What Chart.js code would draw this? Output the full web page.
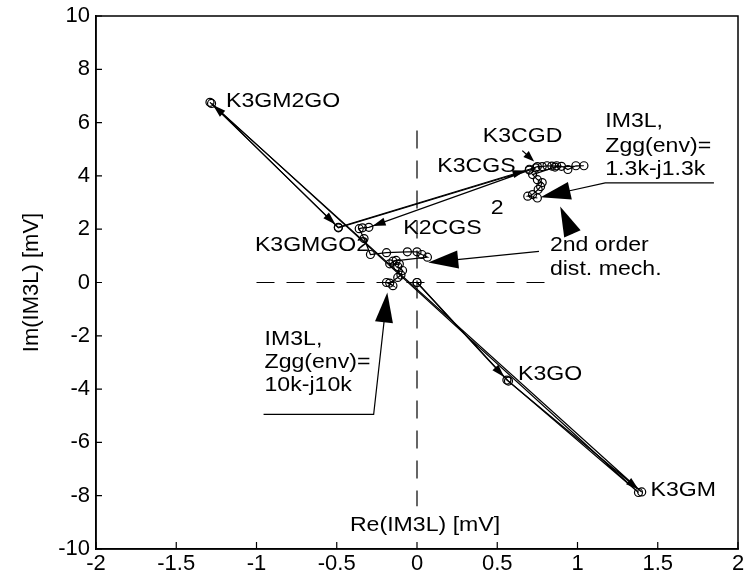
<!DOCTYPE html>
<html>
<head>
<meta charset="utf-8">
<script src="https://cdn.jsdelivr.net/npm/chart.js@4/dist/chart.umd.min.js"></script>
<style>
html,body{margin:0;padding:0;background:#fff;}
canvas{display:block;}
</style>
</head>
<body>
<canvas id="c" width="744" height="575"></canvas>
<script>
// ---- Data (Re / Im of IM3L contributions, mV) ----
// Zgg(env) = 1.3k - j1.3k
const reA = [0, 0.56, 1.40, -1.29, -0.49, 0.70, 0.75, 0.78, 0.81, 0.84, 0.87, 0.90, 0.94, 0.99, 1.04, 0.86, 0.72, 0.75, 0.78, 0.77, 0.755, 0.72, 0.69, 0.75];
const imA = [0, -3.66, -7.86, 6.76, 2.07, 4.25, 4.35, 4.35, 4.38, 4.37, 4.38, 4.36, 4.24, 4.38, 4.38, 4.33, 4.05, 3.86, 3.75, 3.60, 3.49, 3.30, 3.24, 3.17];
// Zgg(env) = 10k - j10k
const reB = [0, 0.57, 1.38, -1.28, -0.49, 0.70, 0.74, -0.30, -0.34, -0.36, -0.33, -0.29, -0.19, -0.06, 0.0, 0.03, 0.065, -0.15, -0.13, -0.17, -0.11, -0.12, -0.09, -0.10, -0.12, -0.17, -0.15, -0.19];
const imB = [0, -3.70, -7.88, 6.72, 2.05, 4.22, 4.30, 2.07, 2.05, 2.02, 1.65, 1.05, 1.12, 1.15, 1.15, 1.05, 0.95, 0.80, 0.83, 0.70, 0.69, 0.60, 0.45, 0.28, 0.19, -0.02, -0.12, 0.0];

const xTicks = [-2, -1.5, -1, -0.5, 0, 0.5, 1, 1.5, 2];
const yTicks = [-10, -8, -6, -4, -2, 0, 2, 4, 6, 8, 10];

// segments (dataset index, end point index) that carry a small arrowhead
const arrowSegs = [[0,1],[0,2],[0,3],[0,4],[0,5],[1,7]];

// annotation texts (data coords, left edge / vertical middle)
const labels = [
  {t:'K3GM2GO', x:-1.19, y:6.79},
  {t:'K3GMGO2', x:-1.01, y:1.39},
  {t:'K2CGS', x:-0.085, y:2.03},
  {t:'K3CGS', x:0.126, y:4.35},
  {t:'K3CGD', x:0.41, y:5.5},
  {t:'2', x:0.46, y:2.8},
  {t:'K3GO', x:0.63, y:-3.45},
  {t:'K3GM', x:1.455, y:-7.8},
  {t:'IM3L,', x:1.173, y:6.05},
  {t:'Zgg(env)=', x:1.173, y:5.11},
  {t:'1.3k-j1.3k', x:1.173, y:4.24},
  {t:'IM3L,', x:-0.95, y:-2.14},
  {t:'Zgg(env)=', x:-0.95, y:-3.0},
  {t:'10k-j10k', x:-0.95, y:-3.86},
  {t:'2nd order', x:0.828, y:1.40},
  {t:'dist. mech.', x:0.828, y:0.49},
  {t:'Re(IM3L) [mV]', x:0.05, y:-9.12, center:true}
];
// annotation pointer arrows: polyline in data coords, last point is tip
const pointers = [
  {pts:[[1.85,3.74],[1.173,3.74],[0.77,3.2]], big:true},
  {pts:[[-0.956,-4.95],[-0.27,-4.95],[-0.185,-0.375]], big:true},
  {pts:[[0.76,1.17],[0.07,0.75]], big:true},
  {pts:[[0.967,1.84],[0.892,2.85]], big:true},
  {pts:[[0.656,4.95],[0.73,4.54]], big:false}
];

const FONT = '"Liberation Sans", Arial, Helvetica, sans-serif';
Chart.defaults.font.family = FONT;
Chart.defaults.color = '#000';

function toXY(re, im){ return re.map((v,i)=>({x:v, y:im[i]})); }

function head(ctx, tx, ty, dx, dy, len, hw){
  const bx = tx - dx*len, by = ty - dy*len;
  ctx.beginPath();
  ctx.moveTo(tx, ty);
  ctx.lineTo(bx - dy*hw, by + dx*hw);
  ctx.lineTo(bx + dy*hw, by - dx*hw);
  ctx.closePath();
  ctx.fill();
}

const deco = {
  id:'deco',
  beforeDatasetsDraw(chart){
    const {ctx} = chart, xs = chart.scales.x, ys = chart.scales.y;
    ctx.save();
    ctx.strokeStyle = '#000'; ctx.lineWidth = 1.2; ctx.setLineDash([18,12]);
    ctx.beginPath();
    ctx.moveTo(xs.getPixelForValue(0), ys.getPixelForValue(5.7));
    ctx.lineTo(xs.getPixelForValue(0), ys.getPixelForValue(-8.4));
    ctx.moveTo(xs.getPixelForValue(-1.0), ys.getPixelForValue(0));
    ctx.lineTo(xs.getPixelForValue(0.8), ys.getPixelForValue(0));
    ctx.stroke();
    ctx.restore();
  },
  afterDatasetsDraw(chart){
    const {ctx, chartArea:a} = chart, xs = chart.scales.x, ys = chart.scales.y;
    ctx.save();
    ctx.fillStyle = '#000'; ctx.strokeStyle = '#000';
    // small arrowheads on path segments
    arrowSegs.forEach(([d,j])=>{
      const el = chart.getDatasetMeta(d).data;
      const p = el[j], q = el[j-1];
      let dx = p.x-q.x, dy = p.y-q.y; const L = Math.hypot(dx,dy); dx/=L; dy/=L;
      head(ctx, p.x-dx*4, p.y-dy*4, dx, dy, 13, 4);
    });
    // pointer arrows
    ctx.lineWidth = 1.2;
    pointers.forEach(pt=>{
      const P = pt.pts.map(([x,y])=>[xs.getPixelForValue(x), ys.getPixelForValue(y)]);
      const n = P.length;
      let dx = P[n-1][0]-P[n-2][0], dy = P[n-1][1]-P[n-2][1];
      const L = Math.hypot(dx,dy); dx/=L; dy/=L;
      const len = pt.big ? 30 : 11, hw = pt.big ? 9 : 4;
      ctx.beginPath();
      ctx.moveTo(P[0][0], P[0][1]);
      for(let i=1;i<n-1;i++) ctx.lineTo(P[i][0], P[i][1]);
      ctx.lineTo(P[n-1][0]-dx*len*0.8, P[n-1][1]-dy*len*0.8);
      ctx.stroke();
      head(ctx, P[n-1][0], P[n-1][1], dx, dy, len, hw);
    });
    // texts
    ctx.font = '21px ' + FONT;
    ctx.textBaseline = 'middle';
    labels.forEach(l=>{
      const px = xs.getPixelForValue(l.x), py = ys.getPixelForValue(l.y);
      ctx.save();
      ctx.translate(px, py);
      ctx.scale(1.1, 1);
      ctx.textAlign = l.center ? 'center' : 'left';
      ctx.fillText(l.t, 0, 0);
      ctx.restore();
    });
    // inside tick marks
    ctx.lineWidth = 1.2;
    ctx.beginPath();
    xs.ticks.forEach(t=>{
      const px = xs.getPixelForValue(t.value);
      ctx.moveTo(px, a.bottom); ctx.lineTo(px, a.bottom-7);
    });
    ys.ticks.forEach(t=>{
      const py = ys.getPixelForValue(t.value);
      ctx.moveTo(a.left, py); ctx.lineTo(a.left+6, py);
    });
    ctx.stroke();
    // frame
    ctx.lineWidth = 1.5;
    ctx.strokeRect(a.left, a.top, a.right-a.left, a.bottom-a.top);
    ctx.restore();
  }
};

const ds = (re, im) => ({
  data: toXY(re, im),
  showLine: true,
  borderColor: '#000',
  borderWidth: 1.2,
  pointRadius: 4,
  pointHoverRadius: 4,
  pointBorderColor: '#000',
  pointBackgroundColor: 'rgba(255,255,255,0)',
  pointBorderWidth: 1.2,
  tension: 0
});

new Chart(document.getElementById('c'), {
  type: 'scatter',
  data: { datasets: [ ds(reA, imA), ds(reB, imB) ] },
  options: {
    responsive: false,
    devicePixelRatio: 1,
    animation: false,
    layout: { padding: { top: 16, right: 6, left: 0, bottom: 0 } },
    plugins: { legend: { display: false }, tooltip: { enabled: false } },
    scales: {
      x: {
        type: 'linear', min: -2, max: 2,
        afterBuildTicks: s => { s.ticks = xTicks.map(v=>({value:v})); },
        ticks: { font: { size: 22 }, color: '#000', padding: 2, maxRotation: 0, autoSkip: false,
                 callback: v => String(v) },
        grid: { display: false, drawTicks: false },
        border: { display: true, color: '#000', width: 1.5 },
        afterFit: s => { s.paddingLeft = 0; s.paddingRight = 0; s.height = 26; }
      },
      y: {
        type: 'linear', min: -10, max: 10,
        afterBuildTicks: s => { s.ticks = yTicks.map(v=>({value:v})); },
        ticks: { font: { size: 22 }, color: '#000', padding: 6, autoSkip: false,
                 callback: v => String(v) },
        grid: { display: false, drawTicks: false },
        border: { display: true, color: '#000', width: 1.5 },
        title: { display: true, text: 'Im(IM3L) [mV]', font: { size: 22 }, color: '#000', padding: { top: 19, bottom: 0 } },
        afterFit: s => { s.paddingTop = 0; s.paddingBottom = 0; s.width = 96; }
      }
    }
  },
  plugins: [deco]
});
</script>
</body>
</html>
